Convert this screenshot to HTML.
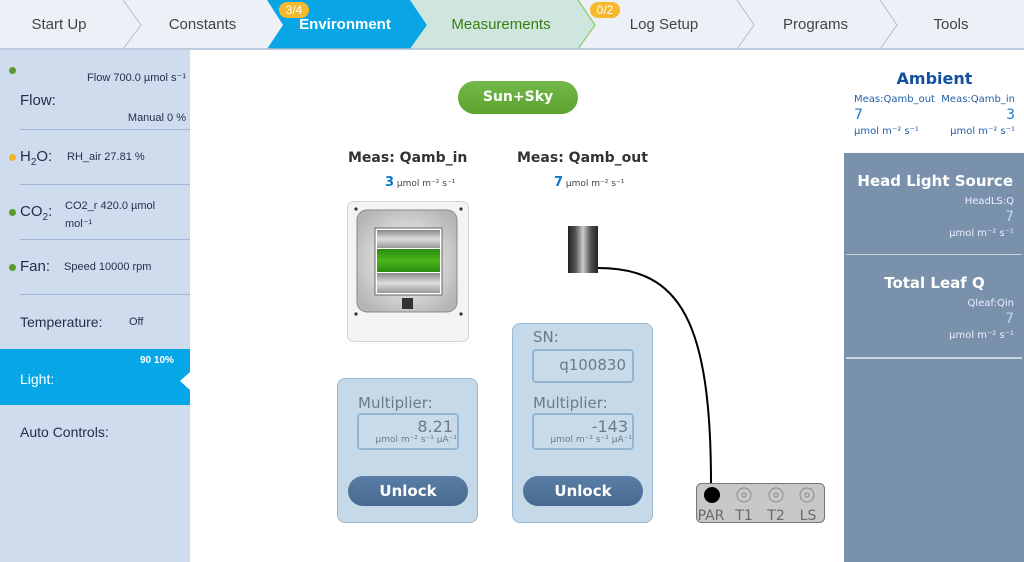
<!DOCTYPE html>
<html><head><meta charset="utf-8">
<style>
*{margin:0;padding:0;box-sizing:border-box}
body{width:1024px;height:562px;position:relative;overflow:hidden;background:#fff;font-family:"DejaVu Sans","Liberation Sans",sans-serif}
.a{position:absolute}
.tab{position:absolute;top:0;height:49px;line-height:50px;font-size:15px;color:#444;text-align:center;font-family:"Liberation Sans",sans-serif}
.badge{position:absolute;top:2px;height:16px;line-height:16px;width:30px;border-radius:8px;background:#f6b92b;color:#fff;font-size:12px;text-align:center;font-family:"Liberation Sans",sans-serif}
.left{position:absolute;left:0;top:50px;width:190px;height:512px;background:#cfdcee}
.lbl{position:absolute;font-family:"Liberation Sans",sans-serif;color:#1f2d4a}
.sep{position:absolute;left:20px;width:170px;height:1px;background:#9db5d6}
.dot{position:absolute;width:7px;height:7px;border-radius:50%;background:#5a9a2e}
.pnl{position:absolute;background:#c6d9e8;border:1px solid #98b9d4;border-radius:8px}
.inp{position:absolute;border:2px solid #93b5d4;border-radius:4px;background:#c9dbe9}
.btn{position:absolute;height:30px;border-radius:15px;background:linear-gradient(#5a7ea6,#46698f);color:#fff;font-weight:bold;font-size:15px;text-align:center;line-height:30px}
.gt{color:#6c7a88}
</style></head><body>
<svg class="a" style="left:0;top:0" width="1024" height="50">
<rect x="0" y="0" width="1024" height="49" fill="#eef0f7"/>
<polygon points="267,0 410,0 427,25 410,49 267,49 283,25" fill="#0aa5e4"/>
<polygon points="410,0 578,0 595,25 578,49 410,49 427,25" fill="#cfe6df"/>
<polyline points="578,0 595,25 578,49" fill="none" stroke="#7cc04a" stroke-width="1"/>
<polyline points="123,0 141,25 123,49" fill="none" stroke="#a9c0de" stroke-width="1"/>
<polyline points="737,0 754,25 737,49" fill="none" stroke="#a9c0de" stroke-width="1"/>
<polyline points="880,0 897,25 880,49" fill="none" stroke="#a9c0de" stroke-width="1"/>
<line x1="0" y1="49" x2="1024" y2="49" stroke="#a9bdd6" stroke-width="1.5"/>
</svg>
<div class="tab" style="left:0;width:118px">Start Up</div>
<div class="tab" style="left:141px;width:123px">Constants</div>
<div class="tab" style="left:283px;width:124px;color:#fff;font-weight:bold">Environment</div>
<div class="tab" style="left:427px;width:148px;color:#3a7d12">Measurements</div>
<div class="tab" style="left:595px;width:138px">Log Setup</div>
<div class="tab" style="left:754px;width:123px">Programs</div>
<div class="tab" style="left:897px;width:108px">Tools</div>
<div class="badge" style="left:279px">3/4</div>
<div class="badge" style="left:590px">0/2</div>

<div class="left"></div>
<div class="dot" style="left:9px;top:67px"></div>
<div class="lbl" style="left:20px;top:92px;font-size:15px">Flow:</div>
<div class="lbl" style="left:60px;top:71px;width:126px;text-align:right;font-size:11px">Flow 700.0 µmol s⁻¹</div>
<div class="lbl" style="left:60px;top:112px;width:126px;text-align:right;font-size:11px">Manual 0 %</div>
<div class="sep" style="top:129px"></div>
<div class="dot" style="left:9px;top:154px;background:#f0b429"></div>
<div class="lbl" style="left:20px;top:148px;font-size:15px">H<sub style="font-size:10px">2</sub>O:</div>
<div class="lbl" style="left:67px;top:151px;font-size:11px">RH_air 27.81 %</div>
<div class="sep" style="top:184px"></div>
<div class="dot" style="left:9px;top:209px"></div>
<div class="lbl" style="left:20px;top:203px;font-size:15px">CO<sub style="font-size:10px">2</sub>:</div>
<div class="lbl" style="left:65px;top:197px;font-size:11px;line-height:18px">CO2_r 420.0 µmol<br>mol⁻¹</div>
<div class="sep" style="top:239px"></div>
<div class="dot" style="left:9px;top:264px"></div>
<div class="lbl" style="left:20px;top:258px;font-size:15px">Fan:</div>
<div class="lbl" style="left:64px;top:261px;font-size:11px">Speed 10000 rpm</div>
<div class="sep" style="top:294px"></div>
<div class="lbl" style="left:20px;top:314px;font-size:14px">Temperature:</div>
<div class="lbl" style="left:129px;top:316px;font-size:11px">Off</div>
<div class="a" style="left:0;top:349px;width:190px;height:56px;background:#07a6e6"></div>
<div class="lbl" style="left:20px;top:371px;font-size:14px;color:#fff">Light:</div>
<div class="lbl" style="left:140px;top:355px;font-size:10px;color:#fff;font-weight:bold">90 10%</div>
<div class="a" style="left:180px;top:372px;width:0;height:0;border-top:9px solid transparent;border-bottom:9px solid transparent;border-right:10px solid #fff"></div>
<div class="lbl" style="left:20px;top:424px;font-size:14px">Auto Controls:</div>

<div class="a" style="left:458px;top:81px;width:120px;height:33px;border-radius:17px;background:linear-gradient(#72b94a,#5ca32f);color:#fff;font-weight:bold;font-size:14px;text-align:center;line-height:33px">Sun+Sky</div>

<div class="a" style="left:348px;top:150px;font-weight:bold;font-size:14px;color:#333">Meas: Qamb_in</div>
<div class="a" style="left:385px;top:175px;font-size:9px;color:#444"><b style="color:#0b78c8;font-size:13px">3</b> µmol m⁻² s⁻¹</div>
<div class="a" style="left:517px;top:150px;font-weight:bold;font-size:14px;color:#333">Meas: Qamb_out</div>
<div class="a" style="left:554px;top:175px;font-size:9px;color:#444"><b style="color:#0b78c8;font-size:13px">7</b> µmol m⁻² s⁻¹</div>

<svg class="a" style="left:0;top:0" width="1024" height="562">
<defs>
<radialGradient id="rg" cx="50%" cy="50%" r="60%"><stop offset="0" stop-color="#fff"/><stop offset="1" stop-color="#b5b5b5"/></radialGradient>
<linearGradient id="cg" x1="0" x2="1"><stop offset="0" stop-color="#222"/><stop offset=".25" stop-color="#555"/><stop offset=".5" stop-color="#ccc"/><stop offset=".75" stop-color="#555"/><stop offset="1" stop-color="#222"/></linearGradient>
<linearGradient id="gg" x1="0" y1="0" x2="0" y2="1"><stop offset="0" stop-color="#2a8a10"/><stop offset=".5" stop-color="#4bb81a"/><stop offset="1" stop-color="#2a8a10"/></linearGradient>
<linearGradient id="sg" x1="0" y1="0" x2="0" y2="1"><stop offset="0" stop-color="#888"/><stop offset=".5" stop-color="#ddd"/><stop offset="1" stop-color="#999"/></linearGradient>
</defs>
<rect x="347.5" y="201.5" width="121" height="140" rx="6" fill="#f3f3f3" stroke="#d4d4d4"/>
<rect x="357" y="210" width="100" height="102" rx="10" fill="url(#rg)" stroke="#888" stroke-width="1"/>
<rect x="375" y="228" width="67" height="67" fill="#fff" stroke="#666" stroke-width="1"/>
<rect x="377" y="230" width="63" height="18" fill="url(#sg)"/>
<rect x="377" y="273" width="63" height="20" fill="url(#sg)"/>
<rect x="377" y="249" width="63" height="23" fill="url(#gg)"/>
<rect x="402" y="298" width="11" height="11" fill="#333"/>
<circle cx="356" cy="209" r="1.6" fill="#333"/><circle cx="461" cy="209" r="1.6" fill="#333"/>
<circle cx="356" cy="314" r="1.6" fill="#333"/><circle cx="461" cy="314" r="1.6" fill="#333"/>
<rect x="568" y="226" width="30" height="47" fill="url(#cg)"/>
<path d="M598 268 C 680 268, 712 320, 711 492" fill="none" stroke="#000" stroke-width="2"/>
<rect x="696.5" y="483.5" width="128" height="39" rx="5" fill="#c8c8c8" stroke="#777"/>
<circle cx="712" cy="495" r="8" fill="#000"/>
<g fill="none" stroke="#888"><circle cx="744" cy="495" r="7"/><circle cx="744" cy="495" r="2"/><circle cx="776" cy="495" r="7"/><circle cx="776" cy="495" r="2"/><circle cx="807" cy="495" r="7"/><circle cx="807" cy="495" r="2"/></g>
<g font-family="DejaVu Sans" font-size="14" fill="#6a6a6a" text-anchor="middle"><text x="711" y="520">PAR</text><text x="744" y="520">T1</text><text x="776" y="520">T2</text><text x="808" y="520">LS</text></g>
</svg>

<div class="pnl" style="left:337px;top:378px;width:141px;height:145px"></div>
<div class="a gt" style="left:358px;top:394px;font-size:15px">Multiplier:</div>
<div class="inp" style="left:357px;top:413px;width:102px;height:37px"></div>
<div class="a gt" style="left:357px;top:417px;width:96px;text-align:right;font-size:16px">8.21</div>
<div class="a gt" style="left:357px;top:435px;width:100px;text-align:right;font-size:9px">µmol m⁻² s⁻¹ µA⁻¹</div>
<div class="btn" style="left:348px;top:476px;width:120px">Unlock</div>

<div class="pnl" style="left:512px;top:323px;width:141px;height:200px"></div>
<div class="a gt" style="left:533px;top:328px;font-size:15px">SN:</div>
<div class="inp" style="left:532px;top:349px;width:102px;height:34px"></div>
<div class="a gt" style="left:532px;top:356px;width:94px;text-align:right;font-size:15px">q100830</div>
<div class="a gt" style="left:533px;top:394px;font-size:15px">Multiplier:</div>
<div class="inp" style="left:532px;top:413px;width:102px;height:37px"></div>
<div class="a gt" style="left:532px;top:417px;width:96px;text-align:right;font-size:16px">-143</div>
<div class="a gt" style="left:532px;top:435px;width:100px;text-align:right;font-size:9px">µmol m⁻² s⁻¹ µA⁻¹</div>
<div class="btn" style="left:523px;top:476px;width:120px">Unlock</div>

<div class="a" style="left:844px;top:50px;width:180px;height:512px;background:#7a91ab"></div>
<div class="a" style="left:844px;top:50px;width:180px;height:103px;background:#fff"></div>
<div class="a" style="left:845px;top:69px;width:179px;text-align:center;font-weight:bold;font-size:16px;color:#1450a0">Ambient</div>
<div class="a" style="left:854px;top:94px;font-size:10px;color:#1e5fa8">Meas:Qamb_out</div>
<div class="a" style="left:940px;top:94px;width:75px;text-align:right;font-size:10px;color:#1e5fa8">Meas:Qamb_in</div>
<div class="a" style="left:854px;top:107px;font-size:14px;color:#1e7ad0">7</div>
<div class="a" style="left:940px;top:107px;width:75px;text-align:right;font-size:14px;color:#1e7ad0">3</div>
<div class="a" style="left:854px;top:126px;font-size:10px;color:#1e5fa8">µmol m⁻² s⁻¹</div>
<div class="a" style="left:940px;top:126px;width:75px;text-align:right;font-size:10px;color:#1e5fa8">µmol m⁻² s⁻¹</div>

<div class="a" style="left:848px;top:172px;width:165px;text-align:right;font-weight:bold;font-size:15px;color:#fff">Head Light Source</div>
<div class="a" style="left:848px;top:196px;width:166px;text-align:right;font-size:10px;color:#eef">HeadLS:Q</div>
<div class="a" style="left:848px;top:209px;width:166px;text-align:right;font-size:14px;color:#b8dcf5">7</div>
<div class="a" style="left:848px;top:228px;width:166px;text-align:right;font-size:10px;color:#eef">µmol m⁻² s⁻¹</div>
<div class="a" style="left:846px;top:254px;width:176px;height:1px;background:#c8d6e0"></div>
<div class="a" style="left:845px;top:274px;width:179px;text-align:center;font-weight:bold;font-size:15px;color:#fff">Total Leaf Q</div>
<div class="a" style="left:848px;top:298px;width:166px;text-align:right;font-size:10px;color:#eef">Qleaf:Qin</div>
<div class="a" style="left:848px;top:311px;width:166px;text-align:right;font-size:14px;color:#b8dcf5">7</div>
<div class="a" style="left:848px;top:330px;width:166px;text-align:right;font-size:10px;color:#eef">µmol m⁻² s⁻¹</div>
<div class="a" style="left:846px;top:357px;width:176px;height:2px;background:#c8d6e0"></div>
</body></html>
